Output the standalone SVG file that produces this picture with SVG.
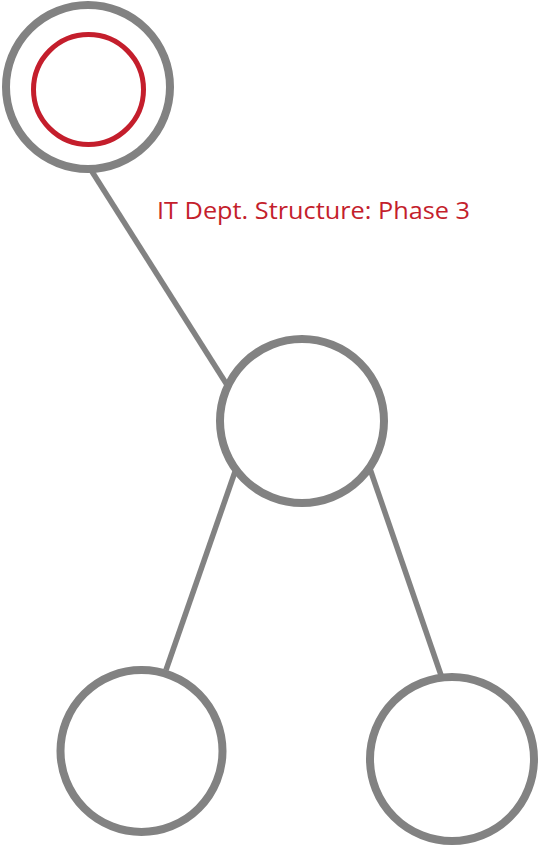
<svg xmlns="http://www.w3.org/2000/svg" width="538" height="846" viewBox="0 0 538 846">
<style>
.node{fill:#fff;stroke:#828282;stroke-width:8}
.edge{stroke:#828282;stroke-width:5.5;fill:none}
.label{font-family:"Open Sans","Liberation Sans",sans-serif;font-size:24.5px;fill:#c41e2c}
</style>
<rect width="538" height="846" fill="#fff"/>
<g id="connectors">
<line class="edge" x1="91" y1="170" x2="229" y2="388"/>
<line class="edge" x1="237" y1="466" x2="166" y2="670"/>
<line class="edge" x1="369" y1="466" x2="442" y2="678"/>
</g>
<g id="root">
<circle class="node" cx="88" cy="87" r="82"/>
<circle cx="88.5" cy="89.5" r="55" fill="none" stroke="#c41e2c" stroke-width="5"/>
</g>
<g id="title">
<text class="label" x="157" y="219" textLength="313" lengthAdjust="spacingAndGlyphs">IT Dept. Structure: Phase 3</text>
</g>
<g id="middle">
<circle class="node" cx="302" cy="421" r="82"/>
</g>
<g id="left">
<circle class="node" cx="141.5" cy="751" r="81"/>
</g>
<g id="right">
<circle class="node" cx="452" cy="759" r="82"/>
</g>
</svg>
